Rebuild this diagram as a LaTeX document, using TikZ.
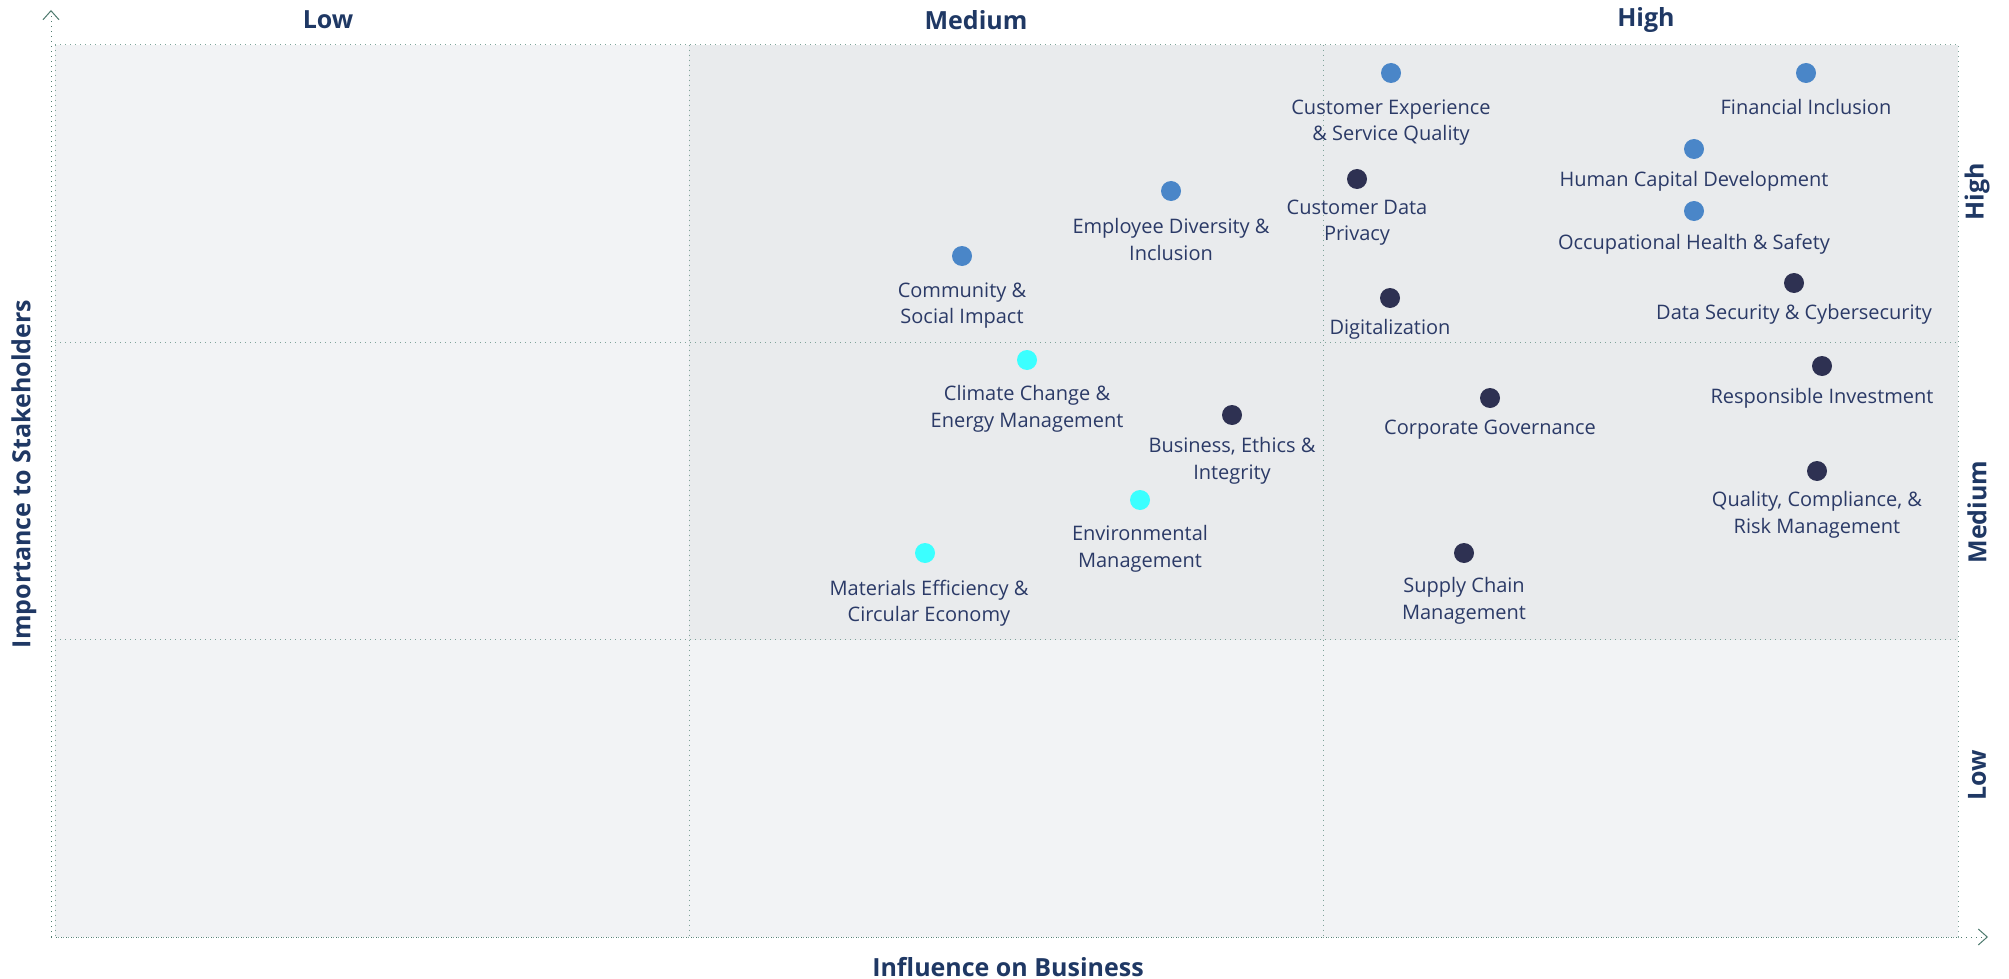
\documentclass[tikz,border=0pt]{standalone}
\usepackage{fontspec}
\setmainfont{Open Sans}
\usetikzlibrary{positioning}
\usetikzlibrary{arrows.meta}
\definecolor{navytext}{HTML}{2B3A67}
\definecolor{titlecol}{HTML}{1F3864}
\definecolor{dotblue}{HTML}{4A86C8}
\definecolor{dotnavy}{HTML}{2E3152}
\definecolor{dotcyan}{HTML}{3BFFFF}
\definecolor{gridcol}{HTML}{7FA39A}
\definecolor{axiscol}{HTML}{4E7A6E}
\definecolor{outerbg}{HTML}{F2F3F5}
\definecolor{innerbg}{HTML}{E9EBED}
\tikzset{
	bluestyle/.style={circle,fill=dotblue,minimum size=10pt,inner sep=0pt},
	navystyle/.style={circle,fill=dotnavy,minimum size=10pt,inner sep=0pt},
	cyanstyle/.style={circle,fill=dotcyan,minimum size=10pt,inner sep=0pt},
	labelstyle/.style={text=navytext,align=center,inner sep=0pt,font=\fontsize{10}{13.2}\selectfont},
	titlestyle/.style={text=titlecol,inner sep=0pt,font=\fontsize{12.5}{14}\selectfont\bfseries},
	gridstyle/.style={draw=gridcol,dotted,line width=0.5pt},
	axisstyle/.style={draw=axiscol,dotted,line width=0.5pt,-{Straight Barb[length=4.5pt,width=8pt]}}
}

\begin{document}
\begin{tikzpicture}[x=0.5pt,y=-0.5pt]
	\useasboundingbox (0,0) rectangle (2009,979);
	\fill[outerbg] (55,44.7) rectangle (1958,937);
	\fill[innerbg] (689,44.7) rectangle (1958,639.5);
	\draw[gridstyle] (55,44.7) rectangle (1958,937);
	\draw[gridstyle] (689,44.7)--(689,937);
	\draw[gridstyle] (1323.5,44.7)--(1323.5,937);
	\draw[gridstyle] (55,342)--(1958,342);
	\draw[gridstyle] (55,639.5)--(1958,639.5);
	\coordinate (origin) at (51,937);
	\coordinate (ytip) at (51,10);
	\coordinate (xtip) at (1988,937);
	\draw[axisstyle] (origin)--(ytip);
	\draw[axisstyle] (origin)--(xtip);
	\node[titlestyle] (collow) at (328,20) {Low};
	\node[titlestyle] (colmed) at (976,20) {Medium};
	\node[titlestyle] (colhigh) at (1646,20) {High};
	\node[titlestyle,rotate=90] (rowhigh) at (1977,192) {High};
	\node[titlestyle,rotate=90] (rowmed) at (1977,512) {Medium};
	\node[titlestyle,rotate=90] (rowlow) at (1977,775) {Low};
	\node[titlestyle,rotate=90] (ytitle) at (24,474) {Importance to Stakeholders};
	\node[titlestyle] (xtitle) at (1008,967) {Influence on Business};
	\node[bluestyle] (cxq) at (1391,73) {};
	\node[bluestyle] (fin) at (1806,73) {};
	\node[bluestyle] (hcd) at (1694,149) {};
	\node[bluestyle] (ohs) at (1694,211) {};
	\node[navystyle] (dsc) at (1794,283) {};
	\node[navystyle] (cdp) at (1357,179) {};
	\node[navystyle] (dig) at (1390,298) {};
	\node[bluestyle] (edi) at (1171,191) {};
	\node[bluestyle] (csi) at (962,256) {};
	\node[cyanstyle] (ccm) at (1027,360) {};
	\node[navystyle] (bei) at (1232,415) {};
	\node[cyanstyle] (env) at (1140,500) {};
	\node[cyanstyle] (mec) at (925,553) {};
	\node[navystyle] (cgv) at (1490,398) {};
	\node[navystyle] (scm) at (1464,553) {};
	\node[navystyle] (rin) at (1822,366) {};
	\node[navystyle] (qcr) at (1817,471) {};
	\node[labelstyle,below=8pt of cxq] (cxql) {Customer Experience\\\& Service Quality};
	\node[labelstyle,below=8pt of fin] (finl) {Financial Inclusion};
	\node[labelstyle,below=6pt of hcd] (hcdl) {Human Capital Development};
	\node[labelstyle,below=6pt of ohs] (ohsl) {Occupational Health \& Safety};
	\node[labelstyle,below=5.5pt of dsc] (dscl) {Data Security \& Cybersecurity};
	\node[labelstyle,below=5pt of cdp] (cdpl) {Customer Data\\Privacy};
	\node[labelstyle,below=5.5pt of dig] (digl) {Digitalization};
	\node[labelstyle,below=8.5pt of edi] (edil) {Employee Diversity \&\\Inclusion};
	\node[labelstyle,below=8pt of csi] (csil) {Community \&\\Social Impact};
	\node[labelstyle,below=7.5pt of ccm] (ccml) {Climate Change \&\\Energy Management};
	\node[labelstyle,below=6pt of bei] (beil) {Business, Ethics \&\\Integrity};
	\node[labelstyle,below=7.5pt of env] (envl) {Environmental\\Management};
	\node[labelstyle,below=8pt of mec,xshift=2pt] (mecl) {Materials Efficiency \&\\Circular Economy};
	\node[labelstyle,below=5.5pt of cgv] (cgvl) {Corporate Governance};
	\node[labelstyle,below=7pt of scm] (scml) {Supply Chain\\Management};
	\node[labelstyle,below=6pt of rin] (rinl) {Responsible Investment};
	\node[labelstyle,below=5pt of qcr] (qcrl) {Quality, Compliance, \&\\Risk Management};
\end{tikzpicture}
\end{document}
